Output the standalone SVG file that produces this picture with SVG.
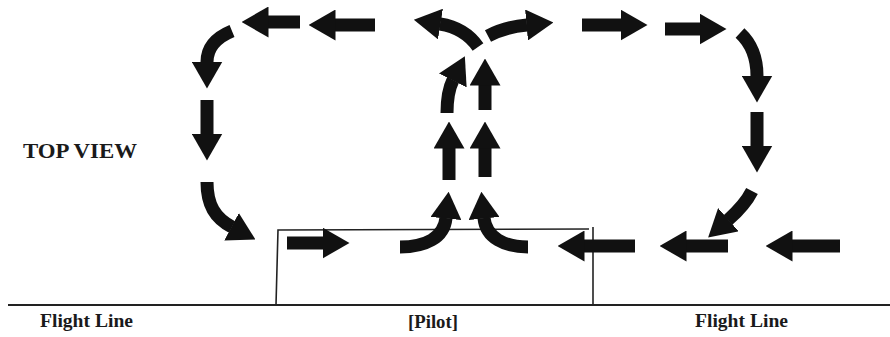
<svg xmlns="http://www.w3.org/2000/svg" width="890" height="337" viewBox="0 0 890 337">
  <style>
    .flow { fill: none; stroke: #111; stroke-width: 13; stroke-linecap: butt; marker-end: url(#head); }
    .rule { fill: none; stroke: #222; stroke-width: 1.6; }
    .ground { fill: none; stroke: #222; stroke-width: 2.2; }
    .lbl { font-family: "Liberation Serif", "Times New Roman", serif; font-weight: bold; fill: #1a1a1a; }
  </style>
  <defs>
    <marker id="head" markerUnits="userSpaceOnUse" markerWidth="27" markerHeight="31" viewBox="0 0 27 31" refX="0.5" refY="15.5" orient="auto">
      <path d="M0,0 L27,15.5 L0,31 Z" fill="#111"/>
    </marker>
  </defs>

  <rect width="890" height="337" fill="#fff"/>

  <!-- ground line and the pilot's station -->
  <g id="flight-line">
    <path class="ground" d="M8,305 L890,305"/>
    <path class="rule" d="M276,305 L278,230 L589,229"/>
    <path class="rule" d="M593,227 L593,305"/>
  </g>

  <!-- labels -->
  <g id="labels">
    <text class="lbl" x="23" y="158" font-size="21" textLength="114" lengthAdjust="spacingAndGlyphs">TOP VIEW</text>
    <text class="lbl" x="40" y="327" font-size="19" textLength="93" lengthAdjust="spacingAndGlyphs">Flight Line</text>
    <text class="lbl" x="408" y="328" font-size="19" textLength="50" lengthAdjust="spacingAndGlyphs">[Pilot]</text>
    <text class="lbl" x="695" y="327" font-size="19" textLength="93" lengthAdjust="spacingAndGlyphs">Flight Line</text>
  </g>

  <!-- flight path arrows -->
  <g id="connectors">
    <!-- top leg, flowing left -->
    <path class="flow" d="M232,31 C215,38 207,48 207,62"/>
    <path class="flow" d="M300,22 L268,22"/>
    <path class="flow" d="M375,25 L335,25"/>
    <path class="flow" d="M478,47 Q465,28 440,24"/>
    <!-- top leg, flowing right -->
    <path class="flow" d="M488,36 Q505,27 527,25"/>
    <path class="flow" d="M582,25 L621,25"/>
    <path class="flow" d="M665,29 L700,29"/>
    <path class="flow" d="M740,33 C752,44 757,58 757,76"/>
    <!-- right side, down -->
    <path class="flow" d="M757,112 L757,146"/>
    <path class="flow" d="M752,191 Q745,205 728,220"/>
    <!-- bottom leg from the right, flowing left -->
    <path class="flow" d="M840,246 L792,246"/>
    <path class="flow" d="M728,246 L686,246"/>
    <path class="flow" d="M635,246 L584,246"/>
    <path class="flow" d="M528,247 C505,247 486,238 484,218"/>
    <!-- left side, down -->
    <path class="flow" d="M207,100 L207,134"/>
    <path class="flow" d="M207,182 C207,205 215,218 232,227"/>
    <!-- bottom leg from the left, flowing right -->
    <path class="flow" d="M287,243 L323,243"/>
    <path class="flow" d="M400,247 C425,247 444,238 446,218"/>
    <!-- centre climb -->
    <path class="flow" d="M449,180 L449,148"/>
    <path class="flow" d="M485,177 L485,148"/>
    <path class="flow" d="M447,113 C447,98 449,88 453,80"/>
    <path class="flow" d="M485,110 L485,85"/>
  </g>
</svg>
